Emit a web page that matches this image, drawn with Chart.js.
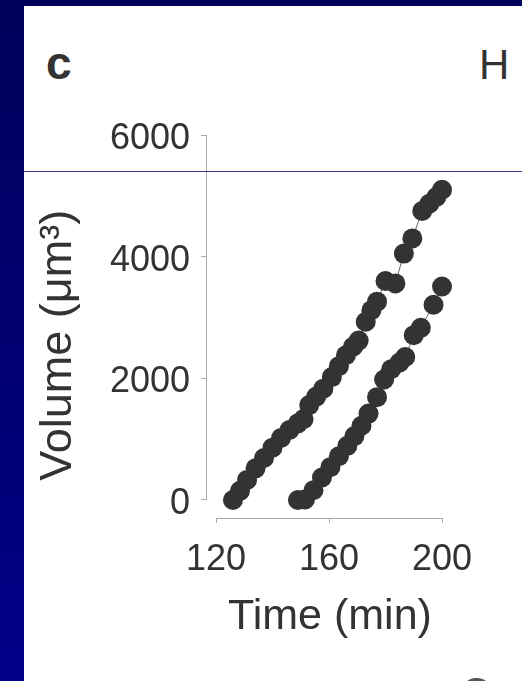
<!DOCTYPE html>
<html>
<head>
<meta charset="utf-8">
<script src="https://cdn.jsdelivr.net/npm/chart.js@4"></script>
<style>
  html, body { margin: 0; padding: 0; }
  body {
    width: 522px; height: 681px; overflow: hidden; position: relative;
    background: linear-gradient(#00005a, #000088);
    font-family: "Liberation Sans", Arial, sans-serif;
  }
  #panel { position: absolute; left: 24px; top: 6px; width: 498px; height: 675px; background: #fff; }
  #rule { position: absolute; left: 24px; top: 171px; width: 498px; height: 1px; background: #3b3b8c; }
  .lbl { position: absolute; color: #333; line-height: 1; white-space: nowrap; }
  #wrap { position: absolute; left: 0; top: 0; width: 522px; height: 681px; }
</style>
</head>
<body>
<div id="panel"></div>
<div class="lbl" style="left:46px;top:40px;font-size:46px;font-weight:bold;">c</div>
<div class="lbl" style="left:479px;top:44px;font-size:42px;">H</div>
<div class="lbl" style="left:461px;top:672px;font-size:40px;color:#555;">O</div>
<div id="wrap"><canvas id="myChart"></canvas></div>
<div id="rule"></div>
<script>
// series (time in min, volume in um^3)
const timeA = [126, 128.5, 131, 134, 137, 140, 143, 146, 149, 151, 153, 155.5, 158, 161, 163.5, 166, 168.5, 170.5, 173, 175, 177, 180, 183.5, 186.5, 189.5, 193, 195.5, 198, 200];
const volA  = [0, 150, 330, 520, 690, 860, 1020, 1150, 1260, 1330, 1560, 1700, 1830, 2020, 2200, 2380, 2520, 2620, 2930, 3120, 3260, 3600, 3560, 4050, 4300, 4750, 4870, 4980, 5100];
const timeB = [149, 151.5, 154.5, 157.5, 160.5, 163.5, 166.5, 169, 171.5, 174, 177, 179.5, 182, 185, 187, 190, 192.5, 197, 200];
const volB  = [0, 10, 160, 370, 540, 720, 890, 1050, 1220, 1420, 1690, 1980, 2150, 2260, 2350, 2710, 2830, 3210, 3510];
const xTicks = [120, 160, 200];
const yTicks = [0, 2000, 4000, 6000];

const font = '"Liberation Sans", Arial, sans-serif';
const ink = '#333';

function pts(ts, vs) {
  return ts.map(function(t, i){ return {x: t, y: vs[i]}; });
}

// axis lines drawn detached from each other, like the figure
const axisLines = {
  id: 'axisLines',
  afterDraw: function(chart) {
    const c = chart.ctx, xs = chart.scales.x, ys = chart.scales.y;
    const a = chart.chartArea;
    c.save();
    c.strokeStyle = '#aaa';
    c.lineWidth = 1;
    c.beginPath();
    c.moveTo(a.left + 0.5, ys.getPixelForValue(yTicks[0]));
    c.lineTo(a.left + 0.5, ys.getPixelForValue(yTicks[yTicks.length - 1]));
    c.moveTo(xs.getPixelForValue(xTicks[0]), a.bottom + 0.5);
    c.lineTo(xs.getPixelForValue(xTicks[xTicks.length - 1]), a.bottom + 0.5);
    c.stroke();
    c.restore();
  }
};

new Chart("myChart", {
  type: "scatter",
  data: {
    datasets: [{
      data: pts(timeA, volA),
      showLine: true,
      borderColor: '#666',
      borderWidth: 1,
      pointRadius: 10,
      pointBorderWidth: 0,
      pointBackgroundColor: ink,
      clip: false
    }, {
      data: pts(timeB, volB),
      showLine: true,
      borderColor: '#666',
      borderWidth: 1,
      pointRadius: 10,
      pointBorderWidth: 0,
      pointBackgroundColor: ink,
      clip: false
    }]
  },
  options: {
    responsive: true,
    maintainAspectRatio: false,
    animation: false,
    layout: { padding: { left: 30, top: 135, right: 80, bottom: 30 } },
    plugins: { legend: { display: false }, tooltip: { enabled: false } },
    scales: {
      x: {
        type: 'linear',
        min: 116.46,
        max: 200,
        afterBuildTicks: function(s){ s.ticks = xTicks.map(function(v){ return {value: v}; }); },
        afterFit: function(s){ s.height = 133; },
        border: { display: false },
        grid: { drawOnChartArea: false, drawTicks: true, tickLength: 5, color: '#aaa' },
        ticks: { color: ink, font: { family: font, size: 36 }, padding: 15, maxRotation: 0,
                 callback: function(v){ return String(v); } },
        title: { display: true, text: '\u00a0Time (min)', color: ink,
                 font: { family: font, size: 43 }, padding: { top: 0, bottom: 8 } }
      },
      y: {
        type: 'linear',
        min: -295.9,
        max: 6000,
        afterBuildTicks: function(s){ s.ticks = yTicks.map(function(v){ return {value: v}; }); },
        afterFit: function(s){ s.width = 176; },
        border: { display: false },
        grid: { drawOnChartArea: false, drawTicks: true, tickLength: 5, color: '#aaa' },
        ticks: { color: ink, font: { family: font, size: 36 }, padding: 11, labelOffset: 4,
                 callback: function(v){ return String(v); } },
        title: { display: true, text: 'Volume (\u03bcm\u00b3)\u00a0\u00a0\u00a0', color: ink,
                 font: { family: font, size: 45 }, padding: { top: 2, bottom: 0 } }
      }
    }
  },
  plugins: [axisLines]
});
</script>
</body>
</html>
